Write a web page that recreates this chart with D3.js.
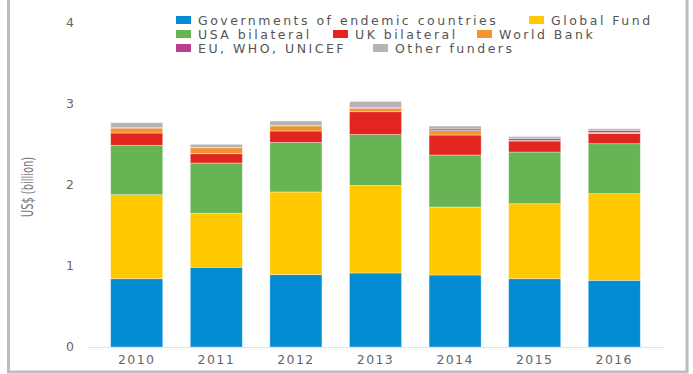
<!DOCTYPE html>
<html>
<head>
    <script src="https://cdnjs.cloudflare.com/ajax/libs/d3/7.8.5/d3.min.js"></script>
    <style>
        body { margin: 0; background: #fff; }
        text { font-family: "DejaVu Sans", sans-serif; }
        .tick-label { font-size: 12.5px; fill: #666; letter-spacing: 1.4px; }
        .legend text { font-size: 12.5px; fill: #555; letter-spacing: 2.5px; }
        .axis-title { font-family: "DejaVu Sans", sans-serif; font-stretch: condensed; font-size: 16px; fill: #777; }
    </style>
</head>
<body>
    <div id="chart"></div>
    <script>
        const width = 693, height = 374;

        const years = ["2010", "2011", "2012", "2013", "2014", "2015", "2016"];
        const funders = ["Governments of endemic countries", "Global Fund", "USA bilateral", "UK bilateral", "World Bank", "EU, WHO, UNICEF", "Other funders"];
        const colors = ["#038bd3", "#ffc800", "#67b454", "#e2251e", "#f3942f", "#b93e8e", "#b4b4b4"];

        // US$ billion per funder, one value per year
        const governments = [0.843, 0.984, 0.893, 0.914, 0.889, 0.843, 0.823];
        const globalFund  = [1.037, 0.667, 1.021, 1.080, 0.839, 0.926, 1.070];
        const usaBilateral = [0.610, 0.621, 0.611, 0.629, 0.642, 0.638, 0.617];
        const ukBilateral = [0.152, 0.114, 0.142, 0.282, 0.247, 0.136, 0.125];
        const worldBank   = [0.060, 0.074, 0.063, 0.042, 0.056, 0.008, 0.015];
        const euWhoUnicef = [0.010, 0.005, 0.005, 0.010, 0.020, 0.022, 0.025];
        const otherFunders = [0.057, 0.037, 0.055, 0.074, 0.035, 0.024, 0.020];

        const yTicks = [0, 1, 2, 3, 4];

        const series = [governments, globalFund, usaBilateral, ukBilateral, worldBank, euWhoUnicef, otherFunders];
        const rows = years.map((y, i) => {
            const r = { year: y };
            funders.forEach((f, k) => r[f] = series[k][i]);
            return r;
        });

        const svg = d3.select("#chart").append("svg").attr("width", width).attr("height", height);

        // frame
        svg.append("rect")
            .attr("x", 8.5).attr("y", -1.5)
            .attr("width", 678.5).attr("height", 373.5)
            .attr("fill", "none").attr("stroke", "#bdbdbd").attr("stroke-width", 3);

        const x = d3.scaleBand().domain(years).range([88, 663]).paddingInner(0.346).paddingOuter(0.285);
        const y = d3.scaleLinear().domain([0, 4]).range([347, 23]);

        const stack = d3.stack().keys(funders)(rows);

        svg.append("g")
            .selectAll("g")
            .data(stack)
            .enter().append("g")
            .attr("fill", (d, i) => colors[i])
            .selectAll("rect")
            .data(d => d)
            .enter().append("rect")
            .attr("x", d => x(d.data.year))
            .attr("y", d => y(d[1]))
            .attr("width", x.bandwidth())
            .attr("height", d => y(d[0]) - y(d[1]))
            .attr("stroke", "#fff")
            .attr("stroke-opacity", 0.45)
            .attr("stroke-width", 0.8);

        // baseline
        svg.append("line")
            .attr("x1", 88).attr("x2", 665)
            .attr("y1", y(0) + 0.5).attr("y2", y(0) + 0.5)
            .attr("stroke", "#e3e3e3").attr("stroke-width", 1);

        // x labels
        svg.append("g")
            .selectAll("text")
            .data(years)
            .enter().append("text")
            .attr("class", "tick-label")
            .attr("x", d => x(d) + x.bandwidth() / 2)
            .attr("y", 364)
            .attr("text-anchor", "middle")
            .text(d => d);

        // y labels
        svg.append("g")
            .selectAll("text")
            .data(yTicks)
            .enter().append("text")
            .attr("class", "tick-label")
            .attr("x", 70)
            .attr("y", d => y(d))
            .attr("dy", "0.35em")
            .attr("text-anchor", "middle")
            .style("letter-spacing", "0px")
            .text(d => d);

        svg.append("text")
            .attr("class", "axis-title")
            .attr("transform", "translate(33,187) rotate(-90)")
            .attr("text-anchor", "middle")
            .attr("textLength", 60)
            .attr("lengthAdjust", "spacingAndGlyphs")
            .text("US$ (billion)");

        // legend
        const legendPos = [[176, 16], [529, 16], [176, 30], [333, 30], [477, 30], [176, 44], [373, 44]];
        const legend = svg.append("g").attr("class", "legend")
            .selectAll("g")
            .data(funders)
            .enter().append("g")
            .attr("transform", (d, i) => `translate(${legendPos[i][0]},${legendPos[i][1]})`);

        legend.append("rect")
            .attr("width", 15).attr("height", 8)
            .attr("fill", (d, i) => colors[i]);

        legend.append("text")
            .attr("x", 22)
            .attr("y", 8.5)
            .text(d => d);
    </script>
</body>
</html>
